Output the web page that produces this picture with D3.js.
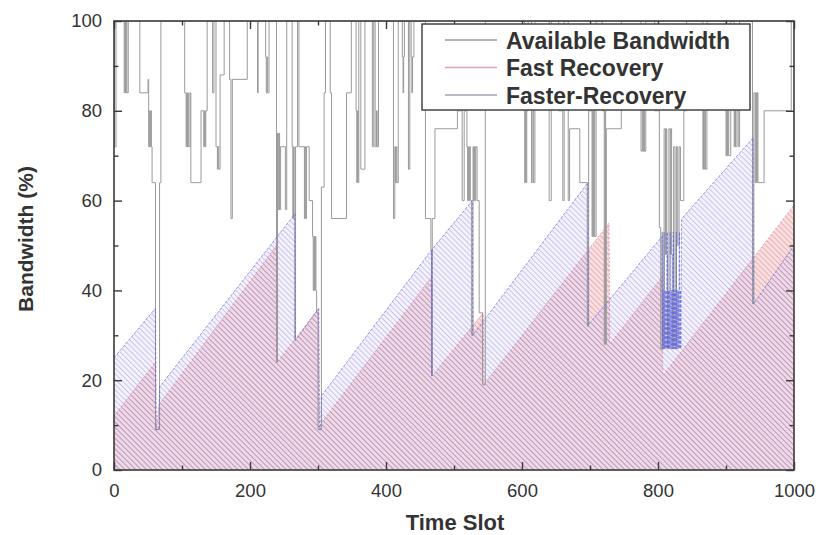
<!DOCTYPE html>
<html><head><meta charset="utf-8">
<script src="https://cdn.jsdelivr.net/npm/d3@7"></script>
<style>body{margin:0;background:#fff;} svg{display:block;font-family:"Liberation Sans",Arial,sans-serif;}</style>
</head><body><svg id="c" width="818" height="535"></svg>
<script>
const xTicks=[0,200,400,600,800,1000];
const xMinor=[100,300,500,700,900];
const yTicks=[0,20,40,60,80,100];
const yMinor=[10,30,50,70,90];
const seriesNames=["Available Bandwidth","Fast Recovery","Faster-Recovery"];

// Available bandwidth (step-after) [time slot, %]
const available=[
[0,100],[1,72],[3,100],[15,84],[16,100],[17,84],[18,100],[19,84],[21,100],
[38,84],[50,87],[51,72],[52,80],[53,72],[54,80],[55,72],[56,64],[61,9],[67,64],[69,100],
[104,84],[106,72],[107,84],[108,72],[109,84],[110,72],[112,84],[113,64],[128,80],[132,72],[133,80],[134,72],[135,80],[137,100],
[145,84],[147,100],[150,72],[152,67],[153,72],[154,67],[156,88],[162,100],[170,87],[172,56],[174,87],[196,100],
[211,84],[212,100],[223,92],[224,84],[225,92],[226,84],[228,100],
[239,24],[240.5,75],[241.5,58],[242.5,75],[243.5,58],[245,72],[252,58],[254,100],[262,72],[263,56],[264,72],[265,56],[266,29],[267,72],[270,100],[272,72],[280,56],[281,72],[282,56],[283,72],[287,60],[292,52],[293,40],[294,52],[295,40],[296,52],[297,40],[298,35],[300,9],[305,63],[309,84],[311,100],[318,84],[320,56],
[342,84],[349,100],[356,80],[357,64],[358,80],[359,64],[360,100],[363,67],[369,100],[380,72],[382,100],[384,72],[386,80],[387,72],[389,100],
[411,56],[413,72],[414,64],[415,72],[416,64],[418,100],[424,92],[425,84],[426,92],[427,100],[433,67],[435,100],[437,92],[438,84],[439,92],[441,100],
[458,56],[466,49],[467,21],[468,56],[472,76],[505,80],[512,60],[515,80],[519,72],[520,60],[521,72],[522,60],[523,72],[524,60],[526,30],[528,72],[529,60],[530,72],[531,60],[532,72],[534,60],[537,35],[542,19],[546,100],
[604,64],[605,80],[606,64],[607,80],[609,100],[614,64],[616,80],[617,64],[619,100],[640,60],[643,100],[654,80],[660,60],[662,100],[668,60],[670,76],[685,64],[696,32],[698,80],[703,52],[704,80],[705,52],[706,80],[707,52],[709,100],
[718,80],[721,28],[722,80],[723,28],[724,76],[746,100],
[775,71],[777,80],[778,71],[779,80],[780,71],[782,100],[795,80],[802,54],[804,27],[806,53],[807,27],[809,76],[811,48],[812,76],[813,48],[814,27],[816,76],[818,48],[819,76],[820,48],[821,27],[823,72],[825,27],[827,72],[829,50],[831,72],[833,60],[838,80],[842,100],
[866,67],[867,80],[868,67],[869,80],[870,67],[872,100],[900,70],[901,80],[902,70],[903,80],[904,70],[907,100],[912,72],[913,80],[914,72],[916,80],[918,72],[920,100],
[939,37],[941,84],[943,64],[944,84],[945,64],[946,84],[947,64],[956,80],[996,100],[1000,100]
];

// Fast Recovery [time slot, %]
const fastRecovery=[
[0,12],[61,24],[62,9],[66,14.5],[239,50],[240,24],[301,36],[302,9],[305,10.5],
[467,43],[468,21],[543,35],[544,19],[728,55],[729,28],[806,43],[807,21],[1000,59]
];

// Faster-Recovery [time slot, %]
const fasterRecovery=[
[0,25],[61,36],[62,9],[66,9],[67,18.5],[266,57],[266.5,28.8],[301,36],[302,9],[304,9],[305,16.5],
[467,49],[467.5,21],[468,49.2],[527,60],[527.5,30],[697,64],[697.5,32.3],[806,52],
[806.5,27],[807.5,40],[808,27],[809,53],[809.5,27],[810.5,40],[811,27],[812,40],[812.5,27],[813.5,53],[814,27],
[815,40],[815.5,27],[816.5,40],[817,27],[818,53],[818.5,27],[819.5,40],[820,27],[821,40],[821.5,27],[822.5,53],
[823,27],[824,40],[824.5,27],[825.5,40],[826,27],[827,53],[827.5,27],[828.5,40],[829,27],[830,40],[830.5,27],
[831.5,53],[832,27],[833,40],[833.5,27],[834.5,55],[835,56],[940,74],[940.5,37],[1000,50]
];

const svg=d3.select("#c");
const M={l:114,r:794,t:21,b:470};
const x=d3.scaleLinear().domain([0,1000]).range([M.l,M.r]);
const y=d3.scaleLinear().domain([0,100]).range([M.b,M.t]);

const defs=svg.append("defs");
function hatch(id,bg,line,lw,sp){
  const p=defs.append("pattern").attr("id",id).attr("patternUnits","userSpaceOnUse")
    .attr("width",10).attr("height",sp).attr("patternTransform","rotate(45)");
  if(bg) p.append("rect").attr("width",10).attr("height",sp).attr("fill",bg);
  p.append("rect").attr("y",0).attr("width",10).attr("height",lw).attr("fill",line);
}
hatch("hRed","#f9e0dc","rgba(226,150,178,0.75)",0.9,3.8);
hatch("hBlue","rgba(205,190,245,0.2)","rgba(125,125,210,0.45)",0.85,3.8);
defs.append("clipPath").attr("id","plot").append("rect")
  .attr("x",M.l).attr("y",M.t).attr("width",M.r-M.l).attr("height",M.b-M.t);

const g=svg.append("g").attr("clip-path","url(#plot)");
const area=d3.area().x(d=>x(d[0])).y0(y(0)).y1(d=>y(d[1]));
const line=d3.line().x(d=>x(d[0])).y(d=>y(d[1]));

g.append("path").datum(fastRecovery).attr("d",area).attr("fill","url(#hRed)");
g.append("path").datum(fasterRecovery).attr("d",area).attr("fill","url(#hBlue)");
g.append("path").datum(available).attr("d",line.curve(d3.curveStepAfter))
  .attr("fill","none").attr("stroke","#9a9a9a").attr("stroke-width",1);
const lin=d3.line().x(d=>x(d[0])).y(d=>y(d[1]));
g.append("path").datum(fastRecovery).attr("d",lin).attr("fill","none")
  .attr("stroke","rgba(215,110,140,0.6)").attr("stroke-width",1).attr("stroke-dasharray","2,2");
g.append("path").datum(fasterRecovery).attr("d",lin).attr("fill","none")
  .attr("stroke","rgba(95,100,220,0.65)").attr("stroke-width",1).attr("stroke-dasharray","3,1.5");

// axes
const axCol="#3a3a3a";
function styleAxis(sel){
  sel.select(".domain").remove();
  sel.selectAll(".tick line").attr("stroke",axCol).attr("stroke-width",1.4);
  sel.selectAll("text").attr("fill","#333").style("font-size","18.5px").style("font-family","'Liberation Sans',Arial,sans-serif");
}
const bx=svg.append("g").attr("transform",`translate(0,${M.b})`)
  .call(d3.axisBottom(x).tickValues(xTicks).tickSize(-8).tickPadding(14).tickFormat(d3.format("d")));
styleAxis(bx);
const bxm=svg.append("g").attr("transform",`translate(0,${M.b})`)
  .call(d3.axisBottom(x).tickValues(xMinor).tickSize(-4.5).tickFormat(""));
styleAxis(bxm);
const tx=svg.append("g").attr("transform",`translate(0,${M.t})`)
  .call(d3.axisTop(x).tickValues(xTicks).tickSize(-8).tickFormat(""));
styleAxis(tx);
const txm=svg.append("g").attr("transform",`translate(0,${M.t})`)
  .call(d3.axisTop(x).tickValues(xMinor).tickSize(-4.5).tickFormat(""));
styleAxis(txm);
const ly=svg.append("g").attr("transform",`translate(${M.l},0)`)
  .call(d3.axisLeft(y).tickValues(yTicks).tickSize(-8).tickPadding(12).tickFormat(d3.format("d")));
styleAxis(ly);
const lym=svg.append("g").attr("transform",`translate(${M.l},0)`)
  .call(d3.axisLeft(y).tickValues(yMinor).tickSize(-4.5).tickFormat(""));
styleAxis(lym);
const ry=svg.append("g").attr("transform",`translate(${M.r},0)`)
  .call(d3.axisRight(y).tickValues(yTicks).tickSize(-8).tickFormat(""));
styleAxis(ry);
const rym=svg.append("g").attr("transform",`translate(${M.r},0)`)
  .call(d3.axisRight(y).tickValues(yMinor).tickSize(-4.5).tickFormat(""));
styleAxis(rym);

svg.append("rect").attr("x",M.l).attr("y",M.t).attr("width",M.r-M.l).attr("height",M.b-M.t)
  .attr("fill","none").attr("stroke",axCol).attr("stroke-width",1.6);

// titles
svg.append("text").attr("x",455).attr("y",530).attr("text-anchor","middle")
  .attr("font-weight","bold").attr("font-size",22).attr("fill","#333").text("Time Slot");
svg.append("text").attr("transform","translate(33,239) rotate(-90)").attr("text-anchor","middle")
  .attr("font-weight","bold").attr("font-size",21).attr("fill","#333").text("Bandwidth (%)");

// legend
const lg=svg.append("g");
lg.append("rect").attr("x",422).attr("y",24).attr("width",328).attr("height",86)
  .attr("fill","#fff").attr("stroke","#444").attr("stroke-width",1.5);
const legCols=["#9a9a9a","#e3a2ae","#a3a3bb"];
seriesNames.forEach((n,i)=>{
  const yy=40+i*27.5;
  lg.append("line").attr("x1",445).attr("x2",497).attr("y1",yy).attr("y2",yy)
    .attr("stroke",legCols[i]).attr("stroke-width",1.3);
  lg.append("text").attr("x",506).attr("y",yy+8.5).attr("font-weight","bold")
    .attr("font-size",23).attr("fill","#333").text(n);
});
</script></body></html>
